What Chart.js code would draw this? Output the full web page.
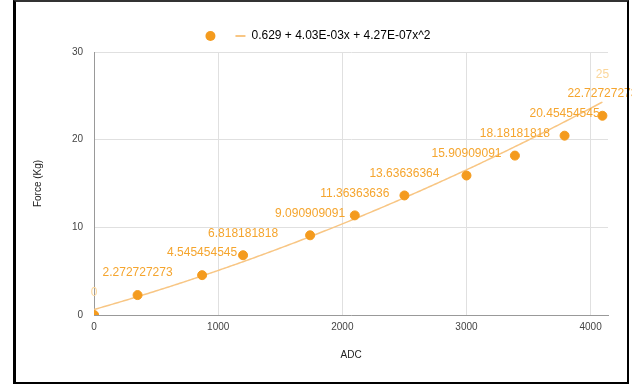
<!DOCTYPE html>
<html>
<head>
<meta charset="utf-8">
<script src="https://cdn.jsdelivr.net/npm/chart.js@4/dist/chart.umd.min.js"></script>
<style>
  html, body { margin: 0; padding: 0; background: #fff; }
  #wrap { position: relative; width: 632px; height: 388px; overflow: hidden; }
  #wrap canvas { position: absolute; left: 0; top: 0; }
  #frame {
    position: absolute; left: 13px; top: 0; width: 611px; height: 380px;
    border-left: 3px solid #000; border-top: 2px solid #333; border-bottom: 2px solid #000;
    border-right: 2px solid #000;
    pointer-events: none;
  }
</style>
</head>
<body>
<div id="wrap">
  <canvas id="forceChart" width="632" height="388"></canvas>
  <div id="frame"></div>
</div>
<script>
// calibration readings
const adc = [0, 350, 870, 1200, 1740, 2100, 2500, 3000, 3390, 3790, 4095];
const force = [0, 2.272727273, 4.545454545, 6.818181818, 9.090909091, 11.36363636,
  13.63636364, 15.90909091, 18.18181818, 20.45454545, 22.72727273];
const forceLabels = ['0', '2.272727273', '4.545454545', '6.818181818', '9.090909091', '11.36363636',
  '13.63636364', '15.90909091', '18.18181818', '20.45454545', '22.72727273'];

// last label sits on its own (no marker shown)
const capAdc = [4095];
const capForce = [25];
const capLabels = ['25'];

// polynomial trendline: c0 + c1*x + c2*x^2
const trendCoef = [0.629, 4.03e-3, 4.27e-7];
const trendText = '0.629 + 4.03E-03x + 4.27E-07x^2';

const xTicks = [0, 1000, 2000, 3000, 4000];
const yTicks = [0, 10, 20, 30];

const orange = '#f49b1e';
const labelOrange = '#f5a52e';
const paleOrange = '#fbd69a';
const trendColor = '#f8c684';

Chart.defaults.font.family = 'Arial, "Liberation Sans", sans-serif';

const trendPlugin = {
  id: 'trend',
  beforeDatasetsDraw(chart) {
    const ctx = chart.ctx;
    const xs = chart.scales.x, ys = chart.scales.y;
    const area = chart.chartArea;
    ctx.save();
    ctx.beginPath();
    ctx.rect(area.left, area.top, area.right - area.left, area.bottom - area.top);
    ctx.clip();
    ctx.strokeStyle = trendColor;
    ctx.lineWidth = 1.5;
    ctx.beginPath();
    const xEnd = adc[adc.length - 1];
    for (let v = 0; v <= xEnd; v += 15) {
      const f = trendCoef[0] + trendCoef[1] * v + trendCoef[2] * v * v;
      const px = xs.getPixelForValue(v), py = ys.getPixelForValue(f);
      if (v === 0) ctx.moveTo(px, py); else ctx.lineTo(px, py);
    }
    ctx.stroke();
    ctx.restore();
  }
};

const labelPlugin = {
  id: 'pointText',
  afterDatasetsDraw(chart) {
    const ctx = chart.ctx;
    ctx.save();
    ctx.font = '12px Arial, "Liberation Sans", sans-serif';
    ctx.textAlign = 'center';
    ctx.textBaseline = 'middle';
    chart.getDatasetMeta(0).data.forEach((el, i) => {
      ctx.fillStyle = i === 0 ? paleOrange : labelOrange;
      ctx.fillText(forceLabels[i], el.x, el.y - 22);
    });
    chart.getDatasetMeta(1).data.forEach((el, i) => {
      ctx.fillStyle = paleOrange;
      ctx.fillText(capLabels[i], el.x, el.y - 21);
    });
    ctx.restore();
  }
};

const ctx = document.getElementById('forceChart').getContext('2d');
new Chart(ctx, {
  type: 'scatter',
  data: {
    datasets: [{
      label: '',
      data: adc.map((x, i) => ({ x: x, y: force[i] })),
      backgroundColor: orange,
      borderColor: orange,
      pointRadius: 4.5,
      pointHoverRadius: 4.5,
    }, {
      label: 'cap',
      data: capAdc.map((x, i) => ({ x: x, y: capForce[i] })),
      pointRadius: 0,
    }],
  },
  options: {
    responsive: false,
    animation: false,
    layout: { padding: { left: 28, right: 24, top: 16, bottom: 23 } },
    plugins: {
      tooltip: { enabled: false },
      legend: {
        position: 'top',
        labels: {
          usePointStyle: true,
          font: { size: 12 },
          color: '#555',
          padding: 14,
          boxHeight: 7,
          pointStyleWidth: 10,
          generateLabels: () => [
            { text: '', pointStyle: 'circle', fillStyle: orange, strokeStyle: orange, lineWidth: 0, datasetIndex: 0 },
            { text: trendText, pointStyle: 'line', fillStyle: trendColor, strokeStyle: trendColor, lineWidth: 2, datasetIndex: 1 },
          ],
        },
      },
    },
    scales: {
      x: {
        type: 'linear',
        min: 0,
        max: 4140,
        afterBuildTicks: s => { s.ticks = xTicks.map(v => ({ value: v })); },
        ticks: { color: '#444', font: { size: 10 }, padding: 6, callback: v => String(v) },
        grid: { color: '#e0e0e0', drawTicks: false },
        border: { color: '#999', width: 1 },
        title: { display: true, text: 'ADC', color: '#222', font: { size: 10 }, padding: { top: 10 } },
      },
      y: {
        min: 0,
        max: 30,
        afterBuildTicks: s => { s.ticks = yTicks.map(v => ({ value: v })); },
        ticks: { color: '#444', font: { size: 10 }, padding: 11, callback: v => String(v) },
        grid: { color: '#e0e0e0', drawTicks: false },
        border: { color: '#999', width: 1 },
        title: { display: true, text: 'Force (Kg)', color: '#222', font: { size: 10 }, padding: { bottom: 17 } },
      },
    },
  },
  plugins: [trendPlugin, labelPlugin],
});
</script>
</body>
</html>
